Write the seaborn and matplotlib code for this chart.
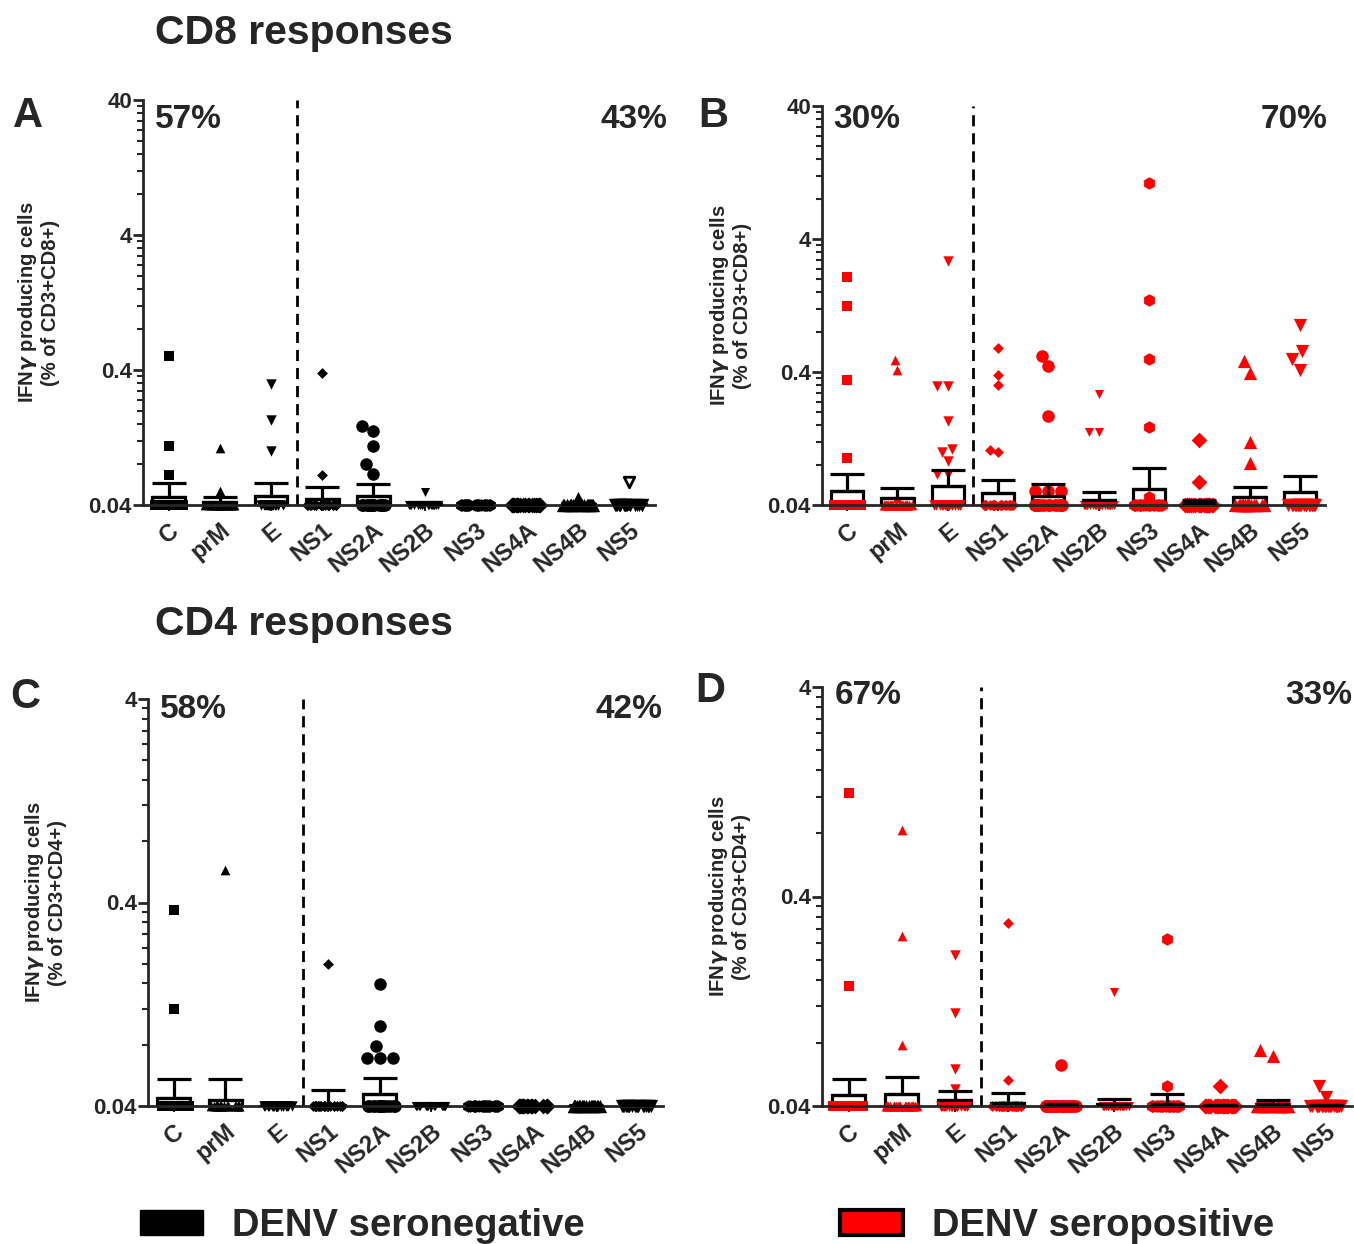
import warnings
import numpy as np
import pandas as pd
import matplotlib
matplotlib.use("Agg")
import matplotlib.pyplot as plt
import seaborn as sns
from matplotlib import font_manager
from matplotlib.patches import Patch
from matplotlib.ticker import FixedLocator, NullFormatter

warnings.filterwarnings("ignore")
np.random.seed(7)  # only for the horizontal jitter of the points on the floor

# antigens and the marker GraphPad used for each column
antigens = ["C", "prM", "E", "NS1", "NS2A", "NS2B", "NS3", "NS4A", "NS4B", "NS5"]
markers = ["s", "^", "v", "D", "o", "v", "h", "D", "^", "v"]
msizes = [7, 7, 7.5, 5.5, 9, 6.5, 9, 8, 9.5, 9.5]

# responders above the 0.04 floor
cd8_neg_vals = [[0.51, 0.11, 0.067], [0.105, 0.051], [0.315, 0.17, 0.10],
                [0.38, 0.067], [0.155, 0.141, 0.11, 0.081, 0.068], [0.05],
                [], [], [0.045], []]
cd8_neg_hollow = [[], [], [], [], [], [], [], [], [], [0.059]]
cd8_pos_vals = [[2.06, 1.26, 0.35, 0.09], [0.49, 0.416, 0.045],
                [2.72, 0.315, 0.315, 0.17, 0.105, 0.10, 0.086, 0.068, 0.068],
                [0.61, 0.38, 0.32, 0.104, 0.10], [0.53, 0.44, 0.188, 0.051, 0.051, 0.051],
                [0.274, 0.142, 0.142], [10.6, 1.40, 0.50, 0.155, 0.046],
                [0.123, 0.060], [0.48, 0.39, 0.12, 0.083], [0.91, 0.58, 0.50, 0.416]]
cd4_neg_vals = [[0.367, 0.12], [0.58], [], [0.2],
                [0.159, 0.099, 0.079, 0.069, 0.069, 0.069], [], [], [], [], []]
cd4_pos_vals = [[1.25, 0.15], [0.83, 0.26, 0.078], [0.21, 0.111, 0.060, 0.048],
                [0.30, 0.053], [0.063], [0.14], [0.25, 0.0496], [0.05],
                [0.074, 0.069], [0.050, 0.044]]

# donors sitting on the detection floor (0.04) for each antigen
cd8_neg_zero = [18, 19, 18, 19, 16, 20, 21, 21, 20, 20]
cd8_pos_zero = [22, 23, 17, 21, 20, 23, 21, 24, 22, 22]
cd4_neg_zero = [19, 20, 21, 20, 15, 21, 21, 21, 21, 21]
cd4_pos_zero = [24, 23, 22, 24, 25, 25, 24, 25, 24, 24]

# bar = mean, whisker = mean + SEM
cd8_neg_mean = [0.046, 0.042, 0.047, 0.044, 0.047, 0.041, 0.0402, 0.0402, 0.041, 0.041]
cd8_neg_top = [0.058, 0.0455, 0.058, 0.054, 0.057, 0.042, 0.0405, 0.0405, 0.0415, 0.0415]
cd8_pos_mean = [0.051, 0.045, 0.056, 0.049, 0.047, 0.0436, 0.053, 0.0415, 0.046, 0.05]
cd8_pos_top = [0.068, 0.054, 0.073, 0.062, 0.058, 0.05, 0.076, 0.0436, 0.055, 0.066]
cd4_neg_mean = [0.044, 0.043, 0.0402, 0.0405, 0.046, 0.0402, 0.0402, 0.0402, 0.0402, 0.0402]
cd4_neg_top = [0.054, 0.054, 0.0405, 0.048, 0.055, 0.0405, 0.0405, 0.0405, 0.0405, 0.0405]
cd4_pos_mean = [0.045, 0.0454, 0.0425, 0.0415, 0.041, 0.041, 0.041, 0.0406, 0.041, 0.0406]
cd4_pos_top = [0.054, 0.055, 0.047, 0.0462, 0.041, 0.0434, 0.0457, 0.0406, 0.0425, 0.0406]

FLOOR = 0.04
W, H = 1354, 1244

sns.set_style("ticks")
plt.rcParams["font.family"] = ["Liberation Sans", "DejaVu Sans"]
plt.rcParams["font.weight"] = "bold"
plt.rcParams["mathtext.fontset"] = "dejavusans"

# a condensed face for the big percentages / legend, if one is installed
installed = {f.name for f in font_manager.fontManager.ttflist}
NARROW = [f for f in ["Liberation Sans Narrow", "DejaVu Sans Condensed"] if f in installed]
NARROW = NARROW + ["Liberation Sans", "DejaVu Sans"]

fig = plt.figure(figsize=(W / 100, H / 100), dpi=100)


def px_axes(left, top, right, bottom):
    return fig.add_axes([left / W, 1 - bottom / H, (right - left) / W, (bottom - top) / H])


def draw_panel(ax, vals, zeros, means, tops, color, ymax, ylab, hollow=None):
    ax.set_yscale("log")
    bars = pd.DataFrame({"antigen": antigens, "mean": means})
    sns.barplot(data=bars, x="antigen", y="mean", order=antigens, color="white",
                saturation=1, edgecolor="black", linewidth=2.3, width=0.64,
                errorbar=None, ax=ax, zorder=1)

    for i, ag in enumerate(antigens):
        # donors on the floor: a dense jittered band
        floor = pd.DataFrame({"antigen": [ag] * zeros[i], "value": [FLOOR] * zeros[i]})
        sns.stripplot(data=floor, x="antigen", y="value", order=antigens, jitter=0.3,
                      marker=markers[i], size=msizes[i], color=color, linewidth=0,
                      ax=ax, zorder=2, clip_on=False)
        if vals[i]:
            sub = pd.DataFrame({"antigen": [ag] * len(vals[i]), "value": vals[i]})
            sns.swarmplot(data=sub, x="antigen", y="value", order=antigens,
                          marker=markers[i], size=msizes[i], color=color,
                          linewidth=0, ax=ax, zorder=2, clip_on=False)
        if hollow is not None and hollow[i]:
            hs = pd.DataFrame({"antigen": [ag] * len(hollow[i]), "value": hollow[i]})
            sns.swarmplot(data=hs, x="antigen", y="value", order=antigens,
                          marker=markers[i], size=msizes[i] * 0.8, color="white",
                          edgecolor="black", linewidth=2, ax=ax, zorder=2)

    m = np.array(means)
    t = np.array(tops)
    ax.errorbar(np.arange(len(antigens)), m, yerr=[np.zeros_like(m), t - m],
                fmt="none", ecolor="black", elinewidth=2.3, capsize=12,
                capthick=2.3, zorder=4)

    ax.axvline(2.5, color="black", lw=2, ls=(0, (4, 2.5)), zorder=0)

    ax.set_xlim(-0.5, 9.5)
    ax.set_ylim(FLOOR, ymax)
    majors = [FLOOR * 10 ** d for d in range(int(round(np.log10(ymax / FLOOR))) + 1)]
    minors = [mj * k for mj in majors[:-1] for k in range(2, 10)]
    ax.yaxis.set_major_locator(FixedLocator(majors))
    ax.yaxis.set_minor_locator(FixedLocator(minors))
    ax.yaxis.set_minor_formatter(NullFormatter())
    ax.set_yticklabels([f"{v:g}" for v in majors], fontsize=16, fontweight="bold")
    ax.set_xticks(range(len(antigens)))
    ax.set_xticklabels(antigens, rotation=40, ha="right", rotation_mode="anchor",
                       fontsize=17, fontweight="bold")
    ax.tick_params(axis="y", which="major", length=7, width=2, pad=1)
    ax.tick_params(axis="y", which="minor", length=4, width=1.5)
    ax.tick_params(axis="x", length=4, width=1.5, pad=6)
    ax.set_xlabel("")
    ax.set_ylabel(ylab, fontsize=14.5, fontweight="bold", linespacing=1.15)
    for side in ["left", "bottom"]:
        ax.spines[side].set_linewidth(2)
    sns.despine(ax=ax)


lab8 = "IFN$\\gamma$ producing cells\n(% of CD3+CD8+)"
lab4 = "IFN$\\gamma$ producing cells\n(% of CD3+CD4+)"

axA = px_axes(143, 100, 655, 505)
axB = px_axes(822, 106, 1325, 505)
axC = px_axes(148, 699, 663, 1106)
axD = px_axes(822, 687, 1352, 1106)

draw_panel(axA, cd8_neg_vals, cd8_neg_zero, cd8_neg_mean, cd8_neg_top, "black", 40, lab8,
           hollow=cd8_neg_hollow)
draw_panel(axB, cd8_pos_vals, cd8_pos_zero, cd8_pos_mean, cd8_pos_top, "#ff0000", 40, lab8)
draw_panel(axC, cd4_neg_vals, cd4_neg_zero, cd4_neg_mean, cd4_neg_top, "black", 4, lab4)
draw_panel(axD, cd4_pos_vals, cd4_pos_zero, cd4_pos_mean, cd4_pos_top, "#ff0000", 4, lab4)

# right edge (pixels) of each rotated y label
for ax, xr in [(axA, 60), (axB, 752), (axC, 67), (axD, 751)]:
    bb = ax.get_position()
    ax.yaxis.set_label_coords((xr / W - bb.x0) / bb.width, 0.5)


def ftext(x, y, s, size, ha="left", family=None):
    fig.text(x / W, 1 - y / H, s, fontsize=size, fontweight="bold", ha=ha, va="center",
             family=family if family else plt.rcParams["font.family"])


ftext(155, 33, "CD8 responses", 29.5)
ftext(155, 624, "CD4 responses", 29.5)
for x, y, s in [(13, 116, "A"), (698, 116, "B"), (10, 697, "C"), (695, 691, "D")]:
    ftext(x, y, s, 30)

narrow = NARROW[0] != "Liberation Sans"
pct_size = 27 if narrow else 24
pcts = [(155, 120, "57%", "left"), (667, 120, "43%", "right"),
        (833, 119, "30%", "left"), (1327, 119, "70%", "right"),
        (160, 710, "58%", "left"), (662, 710, "42%", "right"),
        (835, 696, "67%", "left"), (1352, 696, "33%", "right")]
for x, y, s, ha in pcts:
    ftext(x, y, s, pct_size, ha=ha, family=NARROW)

leg_size = 31 if narrow else 27.5
leg_kw = dict(frameon=False, loc="center left", handlelength=63 / (leg_size * 1.389),
              handleheight=0.6, handletextpad=29 / (leg_size * 1.389), borderpad=0,
              borderaxespad=0, prop={"family": NARROW, "weight": "bold", "size": leg_size})
fig.legend(handles=[Patch(facecolor="black", edgecolor="black", label="DENV seronegative")],
           bbox_to_anchor=(140 / W, 1 - 1226 / H), **leg_kw)
fig.legend(handles=[Patch(facecolor="#ff0000", edgecolor="black", linewidth=3,
                          label="DENV seropositive")],
           bbox_to_anchor=(840 / W, 1 - 1226 / H), **leg_kw)

fig.savefig("out.png", dpi=100)
